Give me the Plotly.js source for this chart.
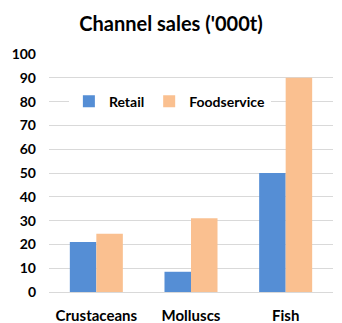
<!DOCTYPE html>
<html><head><meta charset="utf-8">
<script src="https://cdn.plot.ly/plotly-3.0.1.min.js"></script>
<style>html,body{margin:0;padding:0;background:#fff}#c{width:342px;height:323px}</style>
</head><body><div id="c"></div>
<script>
const categories = ["Crustaceans", "Molluscs", "Fish"];
const retail = [21, 8.5, 50];
const foodservice = [24.5, 31, 90];
const yTicks = [0,10,20,30,40,50,60,70,80,90,100];

const fontFam = "Lato, 'Open Sans', sans-serif";
const data = [
  {type:"bar", name:"Retail", x:categories, y:retail, marker:{color:"#558ED5"}},
  {type:"bar", name:"Foodservice", x:categories, y:foodservice, marker:{color:"#FAC090"}}
];
const layout = {
  width:342, height:323,
  margin:{l:49, r:9, t:54, b:31},
  paper_bgcolor:"#fff", plot_bgcolor:"#fff",
  title:{text:"<b>Channel sales ('000t)</b>", x:0.5, xanchor:"center", y:0.925, yanchor:"middle",
         font:{family:fontFam, size:20, color:"#000"}},
  barmode:"group", bargap:0.44, bargroupgap:0,
  font:{family:fontFam, color:"#000"},
  xaxis:{tickfont:{family:fontFam, size:15, color:"#000", weight:"bold"}, showline:false, ticks:"", ticklabelstandoff:13},
  yaxis:{range:[0,100], tickvals:yTicks, showgrid:true, gridcolor:"#D9D9D9", gridwidth:1, zeroline:true, zerolinecolor:"#D9D9D9",
         tickfont:{family:fontFam, size:14, color:"#000", weight:"bold"}, ticks:"", ticklabelstandoff:12, showline:false},
  legend:{orientation:"h", x:0.07, xanchor:"left", y:0.8, yanchor:"middle", bgcolor:"#fff",
          font:{family:fontFam, size:14, color:"#000", weight:"bold"}, itemwidth:20, traceorder:"normal"},
  showlegend:true
};
Plotly.newPlot("c", data, layout, {displayModeBar:false, staticPlot:true});
</script></body></html>
